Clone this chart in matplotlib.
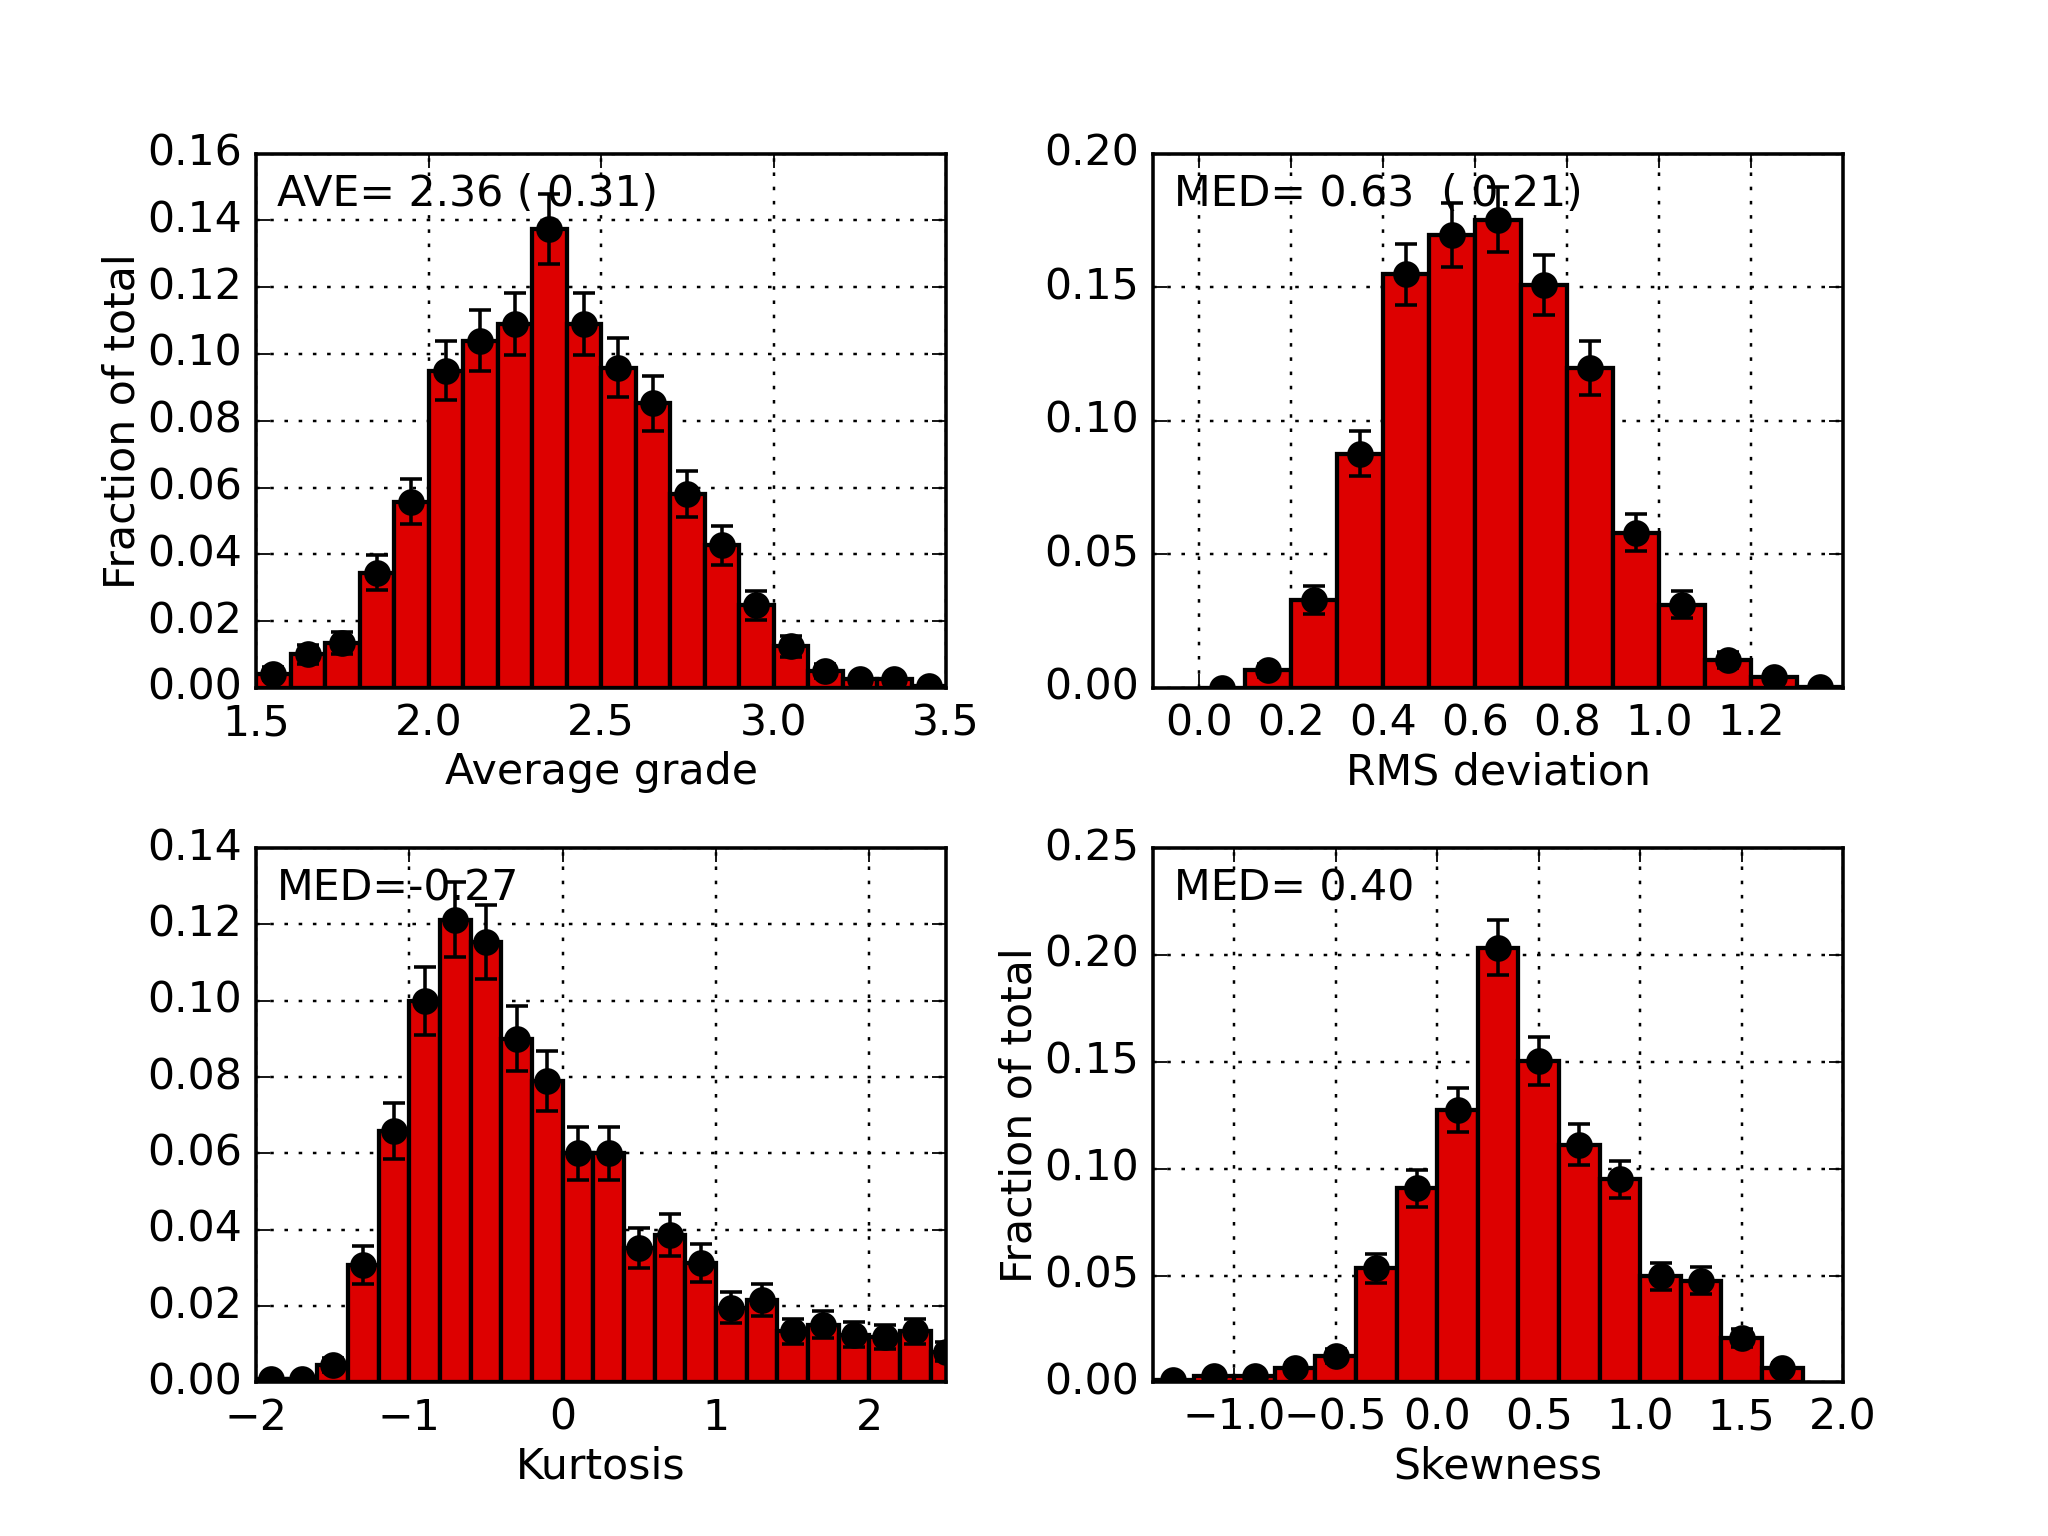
import numpy as np
import matplotlib
matplotlib.use('Agg')
import matplotlib.pyplot as plt


# ---- data ----
grade_centers = [1.55, 1.65, 1.75, 1.85, 1.95, 2.05, 2.15, 2.25, 2.35, 2.45,
                 2.55, 2.65, 2.75, 2.85, 2.95, 3.05, 3.15, 3.25, 3.35, 3.45]
grade_frac = [0.0043, 0.0100, 0.0133, 0.0345, 0.0557, 0.0950, 0.1040, 0.1090, 0.1375, 0.1090,
              0.0959, 0.0852, 0.0581, 0.0427, 0.0247, 0.0124, 0.0051, 0.0026, 0.0026, 0.0007]
grade_err = [0.0019, 0.0028, 0.0033, 0.0053, 0.0067, 0.0088, 0.0091, 0.0093, 0.0105, 0.0093,
             0.0088, 0.0083, 0.0068, 0.0058, 0.0044, 0.0031, 0.0020, 0.0014, 0.0014, 0.0007]

rms_centers = [0.05, 0.15, 0.25, 0.35, 0.45, 0.55, 0.65, 0.75, 0.85, 0.95, 1.05, 1.15, 1.25, 1.35]
rms_frac = [0.0000, 0.0065, 0.0328, 0.0877, 0.1548, 0.1696, 0.1753, 0.1507, 0.1197, 0.0581,
            0.0311, 0.0106, 0.0041, 0.0005]
rms_err = [0.0000, 0.0023, 0.0052, 0.0085, 0.0114, 0.0119, 0.0121, 0.0112, 0.0100, 0.0070,
           0.0051, 0.0030, 0.0018, 0.0006]

kurt_centers = [-1.9, -1.7, -1.5, -1.3, -1.1, -0.9, -0.7, -0.5, -0.3, -0.1, 0.1, 0.3,
                0.5, 0.7, 0.9, 1.1, 1.3, 1.5, 1.7, 1.9, 2.1, 2.3, 2.5]
kurt_frac = [0.0008, 0.0009, 0.0045, 0.0307, 0.0659, 0.0999, 0.1213, 0.1154, 0.0901, 0.0789,
             0.0600, 0.0600, 0.0352, 0.0386, 0.0313, 0.0196, 0.0216, 0.0134, 0.0151, 0.0125,
             0.0119, 0.0134, 0.0080]
kurt_err = [0.0008, 0.0009, 0.0019, 0.0050, 0.0073, 0.0089, 0.0098, 0.0096, 0.0085, 0.0079,
            0.0069, 0.0069, 0.0053, 0.0056, 0.0050, 0.0040, 0.0042, 0.0033, 0.0035, 0.0032,
            0.0031, 0.0033, 0.0025]

skew_centers = [-1.3, -1.1, -0.9, -0.7, -0.5, -0.3, -0.1, 0.1, 0.3, 0.5, 0.7, 0.9,
                1.1, 1.3, 1.5, 1.7]
skew_frac = [0.0010, 0.0028, 0.0028, 0.0069, 0.0124, 0.0533, 0.0908, 0.1276, 0.2034, 0.1503,
             0.1112, 0.0950, 0.0496, 0.0476, 0.0207, 0.0069]
skew_err = [0.0009, 0.0015, 0.0015, 0.0024, 0.0032, 0.0066, 0.0086, 0.0102, 0.0129, 0.0111,
            0.0095, 0.0088, 0.0064, 0.0062, 0.0041, 0.0024]

labels = ['AVE= 2.36 ( 0.31)', 'MED= 0.63  ( 0.21)', 'MED=-0.27', 'MED= 0.40']


def draw_panel(ax, centers, frac, err, width, xlabel, note, xlim, ylim, xticks, yticks, ylabel=None):
    ax.bar(centers, frac, width=width, align='center', color='#dd0000',
           edgecolor='black', linewidth=1.2, zorder=2)
    ax.errorbar(centers, frac, yerr=err, fmt='o', color='black', markersize=7,
                elinewidth=1.0, capsize=3, capthick=1.0, zorder=3, clip_on=True)
    ax.set_xlim(xlim)
    ax.set_ylim(ylim)
    ax.set_xticks(xticks)
    ax.set_yticks(yticks)
    ax.grid(True, color='black', linestyle=':', linewidth=0.7)
    ax.set_axisbelow(True)
    ax.set_xlabel(xlabel, labelpad=2)
    if ylabel:
        ax.set_ylabel(ylabel, labelpad=1)
    ax.text(0.03, 0.925, note, transform=ax.transAxes, va='center', ha='left', zorder=5)


if __name__ == '__main__':
    plt.style.use('classic')
    plt.rcParams['font.family'] = ['DejaVu Sans']
    plt.rcParams['font.size'] = 12
    plt.rcParams['figure.facecolor'] = 'white'
    plt.rcParams['savefig.facecolor'] = 'white'

    fig, axes = plt.subplots(2, 2, figsize=(8, 6), dpi=256)
    fig.subplots_adjust(left=0.125, right=0.9, bottom=0.1, top=0.9, wspace=0.3, hspace=0.3)

    draw_panel(axes[0, 0], grade_centers, grade_frac, grade_err, 0.1, 'Average grade', labels[0],
               (1.5, 3.5), (0, 0.16), [1.5, 2.0, 2.5, 3.0, 3.5],
               [0.0, 0.02, 0.04, 0.06, 0.08, 0.10, 0.12, 0.14, 0.16], ylabel='Fraction of total')
    draw_panel(axes[0, 1], rms_centers, rms_frac, rms_err, 0.1, 'RMS deviation', labels[1],
               (-0.1, 1.4), (0, 0.20), [0.0, 0.2, 0.4, 0.6, 0.8, 1.0, 1.2],
               [0.0, 0.05, 0.10, 0.15, 0.20])
    draw_panel(axes[1, 0], kurt_centers, kurt_frac, kurt_err, 0.2, 'Kurtosis', labels[2],
               (-2, 2.5), (0, 0.14), [-2, -1, 0, 1, 2],
               [0.0, 0.02, 0.04, 0.06, 0.08, 0.10, 0.12, 0.14])
    draw_panel(axes[1, 1], skew_centers, skew_frac, skew_err, 0.2, 'Skewness', labels[3],
               (-1.4, 2.0), (0, 0.25), [-1.0, -0.5, 0.0, 0.5, 1.0, 1.5, 2.0],
               [0.0, 0.05, 0.10, 0.15, 0.20, 0.25], ylabel='Fraction of total')

    for ax in axes[0]:
        ax.xaxis.set_major_formatter(matplotlib.ticker.FormatStrFormatter('%.1f'))
    for ax in axes.flat:
        ax.yaxis.set_major_formatter(matplotlib.ticker.FormatStrFormatter('%.2f'))
    axes[1, 1].xaxis.set_major_formatter(
        matplotlib.ticker.FuncFormatter(lambda v, p: ('%.1f' % v).replace('-', '\u2212')))

    fig.savefig('out.png', dpi=256)
